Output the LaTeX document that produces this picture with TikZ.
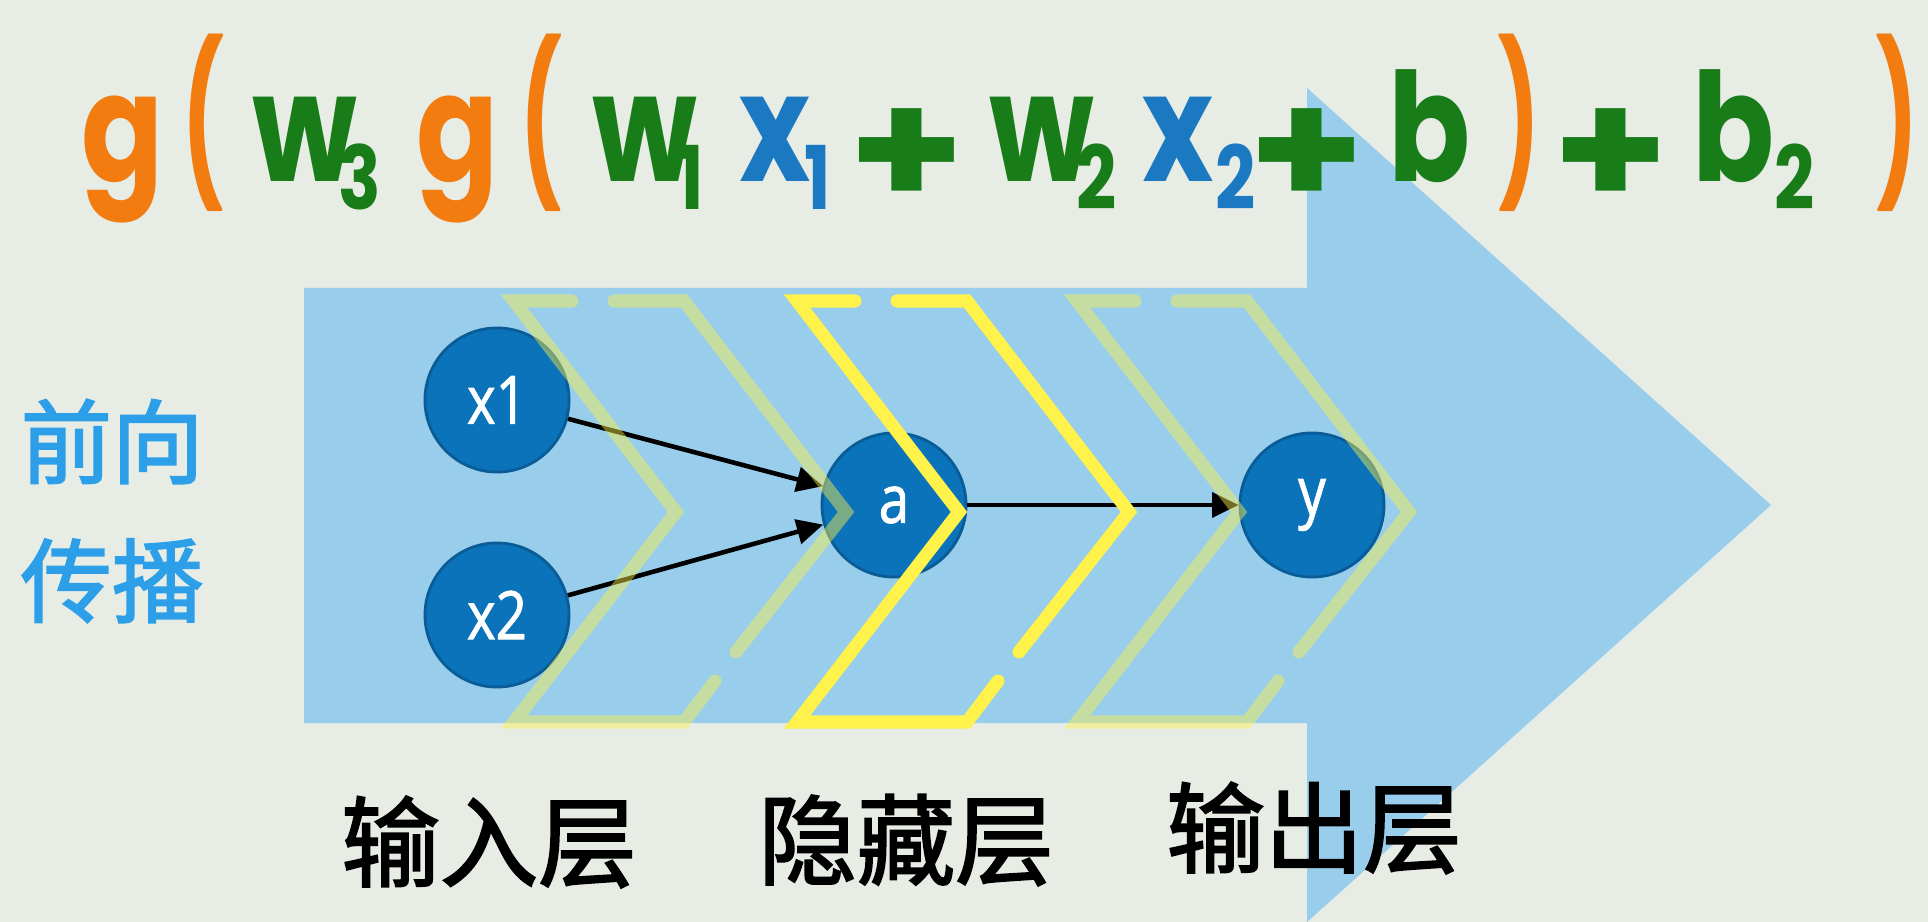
\documentclass[tikz,border=0pt]{standalone}
\usepackage{fontspec}
\usepackage{graphicx}
\usepackage{xcolor}
\usepackage{tikz}
\usetikzlibrary{arrows.meta}
\setmainfont{Open Sans}
\newfontfamily\nodefont{Open Sans}[FakeStretch=0.82, FakeBold=1.2]
\newfontfamily\cjk{Noto Sans CJK SC}[FakeBold=2]
\newfontfamily\cjkthin{Noto Sans CJK SC}[FakeBold=2]
\newfontfamily\formulafont{Poppins}[FakeStretch=0.8]
\newfontfamily\plusfont{Poppins}[FakeStretch=1.15]
\newfontfamily\parenfont{Poppins}[FakeStretch=0.55]
\definecolor{bgcol}{HTML}{E7ECE5}
\definecolor{flowcol}{HTML}{98CDEC}
\definecolor{nodecol}{HTML}{0B73B9}
\definecolor{nodeedge}{HTML}{0A5C97}
\definecolor{gcol}{HTML}{F27C10}
\definecolor{wcol}{HTML}{187C19}
\definecolor{xcol}{HTML}{1B79C2}
\definecolor{chevcol}{HTML}{FFF24A}
\definecolor{fwdcol}{HTML}{2C9FE8}

\tikzset{
  neuron/.style={circle, fill=nodecol, draw=nodeedge, line width=0.8pt,
    minimum size=1.44cm, inner sep=0pt, text=white,
    font=\nodefont\fontsize{19}{22}\selectfont},
  link/.style={-{Triangle[length=7.5pt,width=7pt]}, line width=1.3pt, black},
  layerbox/.style={line width=3.7pt, chevcol, line cap=round, line join=miter},
  sym/.style={inner sep=0pt, anchor=base,
    font=\formulafont\bfseries\fontsize{43}{43}\selectfont},
  subsym/.style={inner sep=0pt, anchor=base,
    font=\formulafont\bfseries\fontsize{25}{25}\selectfont},
  plussym/.style={inner sep=0pt, text=wcol,
    font=\plusfont\bfseries\fontsize{46}{46}\selectfont},
  paren/.style={inner sep=0pt, text=gcol,
    font=\parenfont\bfseries\fontsize{45}{45}\selectfont},
  layerlabel/.style={font=\cjk\fontsize{28}{28}\selectfont, inner sep=0pt},
}

\begin{document}
\begin{tikzpicture}[x=0.01cm, y=-0.01cm]

% ------------------------------------------------------------ canvas
\fill[bgcol] (0,0) rectangle (1928,922);
\useasboundingbox (0,0) rectangle (1928,922);

% ------------------------------------------------------- the big arrow
\fill[flowcol] (304,288) -- (1307,288) -- (1307,88) -- (1771,505)
  -- (1307,922) -- (1307,723) -- (304,723) -- cycle;

% -------------------------------------------------------------- neurons
\node[neuron] (x1) at (497,400) {x1};
\node[neuron] (x2) at (497,615) {x2};
\node[neuron] (a)  at (894,505) {a};
\node[neuron] (y)  at (1312,505) {y};

\draw[link] (x1) -- (a);
\draw[link] (x2) -- (a);
\draw[link] (a) -- (y);

% ------------------------------------------------ layer chevrons (on top)
\foreach \lx/\op in {514/0.45, 797/1, 1077/0.45} {
  \draw[layerbox, draw opacity=\op] (\lx+58,301) -- (\lx,301) -- (\lx+162,512)
    -- (\lx,722) -- (\lx+170,722) -- (\lx+201,681);
  \draw[layerbox, draw opacity=\op] (\lx+100,301) -- (\lx+170,301)
    -- (\lx+332,512) -- (\lx+222,652);
}

% -------------------------------------------------------------- formula
\foreach \px/\txt/\col [count=\i] in {123/g/gcol, 305/w/wcol, 458/g/gcol,
    645/w/wcol, 775/x/xcol, 1042/w/wcol, 1178/x/xcol,
    1430/b/wcol, 1734/b/wcol}
  \node[sym, text=\col] (f\i) at (\px,182) {\txt};
\foreach \px/\txt/\col [count=\i] in {360/3/wcol, 691/1/wcol, 818/1/xcol,
    1097/2/wcol, 1236/2/xcol, 1795/2/wcol}
  \node[subsym, text=\col] (s\i) at (\px,210) {\txt};
\foreach \px [count=\i] in {907, 1307, 1611}
  \node[plussym] (plus\i) at (\px,158) {+};
\foreach \px/\txt [count=\i] in {203/(, 541/(, 1519/), 1897/)}
  \node[paren] (p\i) at (\px,123) {\txt};

% --------------------------------------------------------------- labels
\node[layerlabel] (inlabel)  at (489,842)  {输入层};
\node[layerlabel] (hidlabel) at (906,840)  {隐藏层};
\node[layerlabel] (outlabel) at (1314,828) {输出层};
\node[font=\cjkthin\fontsize{26}{39.5}\selectfont, text=fwdcol,
  align=center, inner sep=0pt] (fwdlabel) at (112,511) {前向\\传播};

\end{tikzpicture}
\end{document}
